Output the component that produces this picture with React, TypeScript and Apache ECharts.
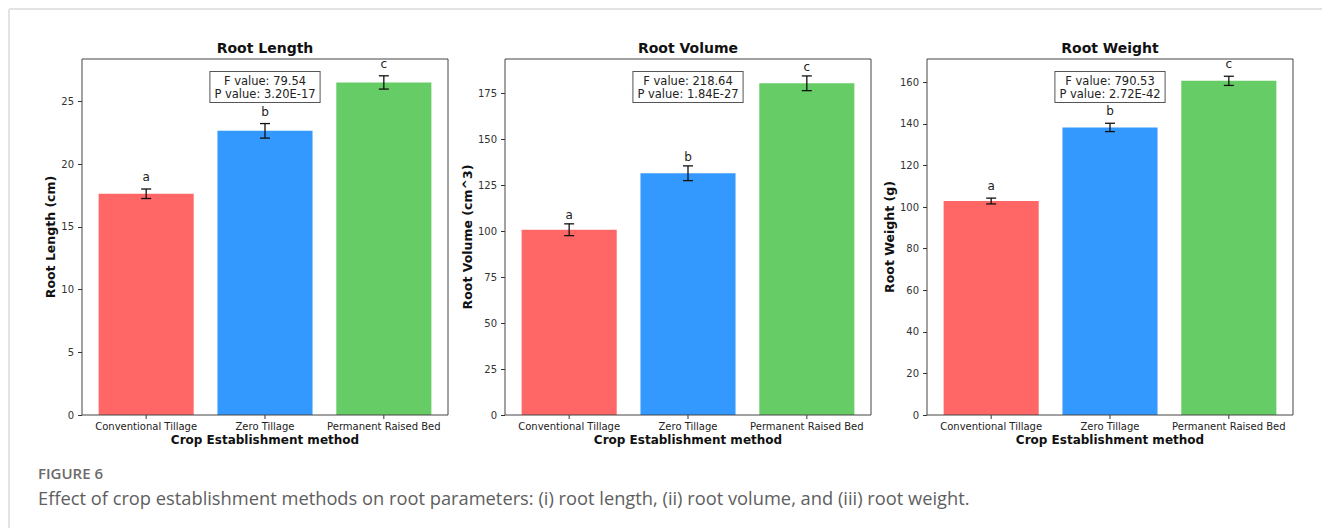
import React, { useEffect, useRef } from "react";
import * as echarts from "echarts";

const categories = ["Conventional Tillage", "Zero Tillage", "Permanent Raised Bed"];
const barColors = ["#ff6666", "#3399ff", "#66cc66"];
const panelTitles = ["Root Length", "Root Volume", "Root Weight"];
const yAxisNames = ["Root Length (cm)", "Root Volume (cm^3)", "Root Weight (g)"];
const xAxisName = "Crop Establishment method";
const groupLetters = ["a", "b", "c"];

const rootLengthMean = [17.65, 22.67, 26.53];
const rootLengthErr = [0.38, 0.58, 0.53];
const rootVolumeMean = [100.7, 131.4, 180.3];
const rootVolumeErr = [3.2, 4.0, 4.0];
const rootWeightMean = [102.9, 138.3, 160.7];
const rootWeightErr = [1.4, 2.0, 2.2];

const fValues = ["79.54", "218.64", "790.53"];
const pValues = ["3.20E-17", "1.84E-27", "2.72E-42"];

const yMax = [28.4, 193.5, 171.2];
const rootLengthTicks = [0, 5, 10, 15, 20, 25];
const rootVolumeTicks = [0, 25, 50, 75, 100, 125, 150, 175];
const rootWeightTicks = [0, 20, 40, 60, 80, 100, 120, 140, 160];

const captionLabel = "FIGURE 6";
const captionText =
  "Effect of crop establishment methods on root parameters: (i) root length, (ii) root volume, and (iii) root weight.";

const means = [rootLengthMean, rootVolumeMean, rootWeightMean];
const errs = [rootLengthErr, rootVolumeErr, rootWeightErr];
const ticks = [rootLengthTicks, rootVolumeTicks, rootWeightTicks];

// layout (pixels)
const gridLefts = [82, 505, 927];
const gridWidth = 366;
const gridTop = 59;
const gridHeight = 356;
const yNameGaps = [24, 30, 29];
const letterGaps = [12, 8.5, 12];

const FONT = '"DejaVu Sans", sans-serif';

export default function App() {
  const ref = useRef<HTMLDivElement>(null);

  useEffect(() => {
    if (!ref.current) return;
    const chart = echarts.init(ref.current, undefined, { renderer: "svg" });

    const makeRender = (k: number) => (params: any, api: any) => {
      const idx = params.dataIndex;
      const i = api.value(0);
      const m = api.value(1);
      const e = api.value(2);
      const tl = api.coord([i - 0.4, m]);
      const br = api.coord([i + 0.4, 0]);
      const c = api.coord([i, m]);
      const hi = api.coord([i, m + e]);
      const lo = api.coord([i, m - e]);
      const base = api.coord([i, 0]);
      const cap = 5;
      return {
        type: "group",
        children: [
          {
            type: "rect",
            shape: { x: tl[0], y: tl[1], width: br[0] - tl[0], height: br[1] - tl[1] },
            style: { fill: barColors[idx] },
          },
          {
            type: "line",
            shape: { x1: c[0], y1: hi[1], x2: c[0], y2: lo[1] },
            style: { stroke: "#111", lineWidth: 1.3 },
          },
          {
            type: "line",
            shape: { x1: c[0] - cap, y1: hi[1], x2: c[0] + cap, y2: hi[1] },
            style: { stroke: "#111", lineWidth: 1.3 },
          },
          {
            type: "line",
            shape: { x1: c[0] - cap, y1: lo[1], x2: c[0] + cap, y2: lo[1] },
            style: { stroke: "#111", lineWidth: 1.3 },
          },
          {
            type: "text",
            x: c[0],
            y: hi[1] - letterGaps[k],
            style: {
              text: groupLetters[idx],
              fill: "#222",
              font: `12px ${FONT}`,
              align: "center",
              verticalAlign: "middle",
            },
          },
          {
            type: "line",
            shape: { x1: c[0], y1: base[1], x2: c[0], y2: base[1] + 4 },
            style: { stroke: "#333", lineWidth: 1 },
          },
          {
            type: "text",
            x: c[0],
            y: base[1] + 11,
            style: {
              text: categories[idx],
              fill: "#222",
              font: `10px ${FONT}`,
              align: "center",
              verticalAlign: "middle",
            },
          },
        ],
      };
    };

    const grids = [0, 1, 2].map((k) => ({
      left: gridLefts[k],
      top: gridTop,
      width: gridWidth,
      height: gridHeight,
      containLabel: false,
    }));

    const xAxes = [0, 1, 2].map((k) => ({
      gridIndex: k,
      type: "value",
      min: -0.54,
      max: 2.54,
      axisLine: { show: false, onZero: false },
      axisTick: { show: false },
      axisLabel: { show: false },
      splitLine: { show: false },
      name: xAxisName,
      nameLocation: "middle",
      nameGap: 19,
      nameTextStyle: { fontFamily: FONT, fontWeight: "bold", fontSize: 12, color: "#111" },
    }));

    const yAxes = [0, 1, 2].map((k) => ({
      gridIndex: k,
      type: "value",
      min: 0,
      max: yMax[k],
      position: "left",
      axisLine: { show: false, onZero: false },
      splitLine: { show: false },
      axisTick: { show: true, length: 4, lineStyle: { color: "#333" }, customValues: ticks[k] },
      axisLabel: {
        customValues: ticks[k],
        fontFamily: FONT,
        fontSize: 10,
        color: "#333",
        margin: 8,
      },
      name: yAxisNames[k],
      nameLocation: "middle",
      nameGap: yNameGaps[k],
      nameTextStyle: { fontFamily: FONT, fontWeight: "bold", fontSize: 12.5, color: "#111" },
    }));

    const series = [0, 1, 2].map((k) => ({
      type: "custom",
      xAxisIndex: k,
      yAxisIndex: k,
      clip: false,
      renderItem: makeRender(k),
      data: categories.map((_, i) => [i, means[k][i], errs[k][i]]),
    }));

    const graphics: any[] = [
      {
        type: "line",
        shape: { x1: 9, y1: 9, x2: 1322, y2: 9 },
        style: { stroke: "#e3e3e3", lineWidth: 2 },
      },
      {
        type: "line",
        shape: { x1: 9, y1: 9, x2: 9, y2: 528 },
        style: { stroke: "#e3e3e3", lineWidth: 2 },
      },
      {
        type: "text",
        x: 38,
        y: 473,
        style: {
          text: captionLabel,
          font: `600 15px "Open Sans", sans-serif`,
          fill: "#6b6b6b",
          verticalAlign: "middle",
        },
      },
      {
        type: "text",
        x: 38,
        y: 497,
        style: {
          text: captionText,
          font: `18.3px "Open Sans", sans-serif`,
          fill: "#5e5e5e",
          verticalAlign: "middle",
        },
      },
    ];

    [0, 1, 2].forEach((k) => {
      const cx = gridLefts[k] + gridWidth / 2;
      graphics.push({
        type: "text",
        x: cx,
        y: 48,
        style: {
          text: panelTitles[k],
          font: `bold 14px ${FONT}`,
          fill: "#111",
          align: "center",
          verticalAlign: "middle",
        },
      });
      graphics.push({
        type: "rect",
        z: 100,
        shape: { x: gridLefts[k], y: gridTop, width: gridWidth, height: gridHeight },
        style: { fill: "none", stroke: "#444", lineWidth: 1 },
      });
      graphics.push({
        type: "text",
        z: 100,
        x: cx,
        y: 72,
        style: {
          text: `F value: ${fValues[k]}\nP value: ${pValues[k]}`,
          font: `11.5px ${FONT}`,
          fill: "#222",
          align: "center",
          verticalAlign: "top",
          lineHeight: 13,
          backgroundColor: "#fff",
          borderColor: "#555",
          borderWidth: 1,
          padding: [2, 4, 2, 4],
        },
      });
    });

    chart.setOption({
      animation: false,
      backgroundColor: "#ffffff",
      grid: grids,
      xAxis: xAxes,
      yAxis: yAxes,
      series,
      graphic: graphics,
    });

    return () => chart.dispose();
  }, []);

  return (
    <div
      ref={ref}
      style={{ position: "absolute", left: 0, top: 0, width: 1322, height: 528, background: "#fff" }}
    />
  );
}
